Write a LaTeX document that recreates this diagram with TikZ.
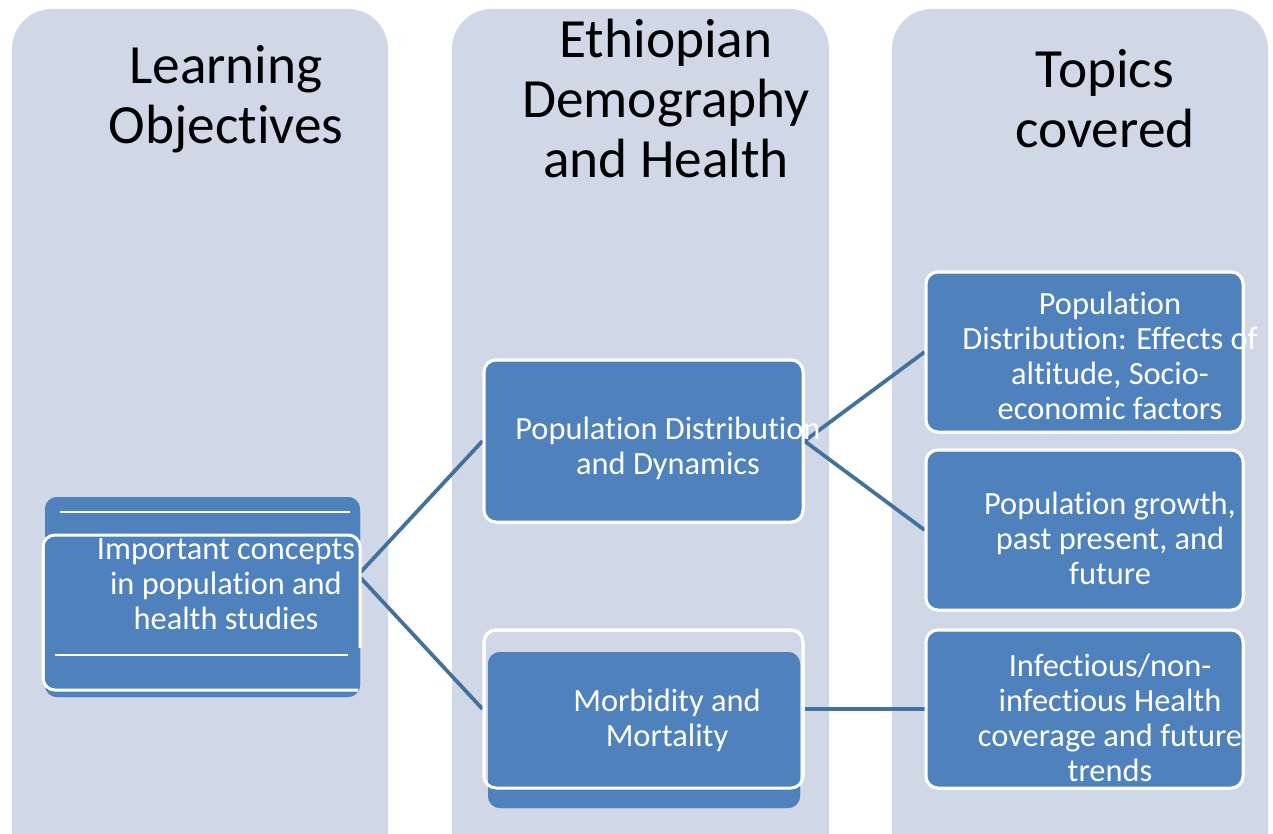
\documentclass[tikz,border=0pt]{standalone}
\usepackage{fontspec}
\setmainfont{Carlito}[RawFeature={-liga;-clig;-dlig;-rlig;-calt}]
\usetikzlibrary{fit}
\definecolor{colbg}{HTML}{D0D8E8}
\definecolor{boxblue}{HTML}{4F81BD}
\definecolor{linkblue}{HTML}{41719C}
\tikzset{
  column/.style={fill=colbg, rounded corners=30pt},
  box/.style={fill=boxblue, draw=white, line width=2.25pt, rounded corners=9pt, inner sep=0pt},
  frame/.style={draw=white, line width=2.25pt, rounded corners=9pt, inner sep=0pt},
  backbox/.style={fill=boxblue, rounded corners=9pt, inner sep=0pt},
  head/.style={font=\fontsize{41.5}{45}\selectfont, align=center, text=black, inner sep=0pt},
  btext/.style={font=\fontsize{24.3}{26.25}\selectfont, align=center, text=white, inner sep=0pt},
  link/.style={draw=linkblue, line width=2.8pt},
  whiteline/.style={draw=white, line width=1.8pt},
}
\begin{document}
\begin{tikzpicture}[x=0.75pt,y=-0.75pt]
\useasboundingbox (0,0) rectangle (1273,834);
\clip (0,0) rectangle (1273,834);
\fill[white] (0,0) rectangle (1273,834);
% columns
\path[column] (12,9) rectangle (388,880);
\path[column] (452,9) rectangle (829,880);
\path[column] (892,9) rectangle (1268,880);
% headers
\node[head] (h1) at (226,99) {Learning\\Objectives};
\node[head] (h2) at (666,98) {Ethiopian\\Demography\\and Health};
\node[head] (h3) at (1105,99) {Topics\\covered};
% boxes (geometry)
\node[backbox, fit={(45,497) (360,697)}] (imp) {};
\node[box, fit={(484,360) (803,522)}] (pdd) {};
\node[backbox, fit={(488,652) (800,808)}] (mmback) {};
\node[frame, fit={(484,630) (803,788)}] (mm) {};
\node[box, fit={(926,272) (1243,432)}] (r1) {};
\node[box, fit={(926,450) (1243,610)}] (r2) {};
\node[box, fit={(926,630) (1243,788)}] (r3) {};
\coordinate (impout) at (358,575);
% connectors
\path[link] (impout) -- (pdd.west);
\path[link] (impout) -- (mm.west);
\path[link] (pdd.east) -- (r1.west);
\path[link] (pdd.east) -- (r2.west);
\path[link] (mm.east) -- (r3.west);
% redraw boxes over connector ends
\node[backbox, fit={(45,497) (360,697)}] {};
\path[whiteline] (60,512) -- (350,512);
\path[whiteline] (55,655) -- (348,655);
\draw[white, line width=2.25pt, rounded corners=9pt] (360,648) -- (360,535) -- (43,535) -- (43,690) -- (358,690);
\node[box, fit={(484,360) (803,522)}] {};
\node[backbox, fit={(488,652) (800,808)}] {};
\node[frame, fit={(484,630) (803,788)}] {};
\node[box, fit={(926,272) (1243,432)}] {};
\node[box, fit={(926,450) (1243,610)}] {};
\node[box, fit={(926,630) (1243,788)}] {};
% texts
\node[btext] (timp) at (226,584) {Important concepts\\in population and\\health studies};
\node[btext] (tpdd) at (668,448) {Population Distribution\\and Dynamics};
\node[btext] (tmm) at (667,720) {Morbidity and\\Mortality};
\node[btext] (tr1) at (1110,356) {Population\\Distribution: Effects of\\altitude, Socio-\\economic factors};
\node[btext] (tr2) at (1110,538) {Population growth,\\past present, and\\future};
\node[btext] (tr3) at (1110,718) {Infectious/non-\\infectious Health\\coverage and future\\trends};
\end{tikzpicture}
\end{document}
